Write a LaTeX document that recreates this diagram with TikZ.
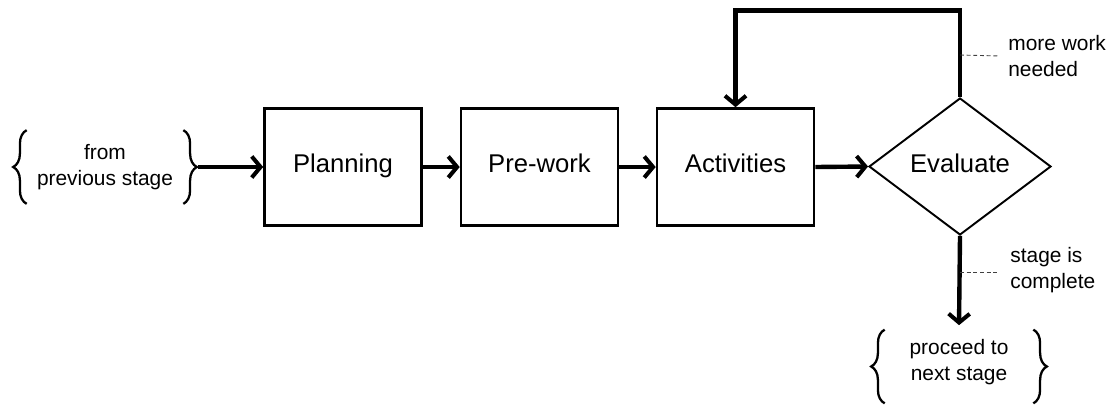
\documentclass[tikz,border=0pt]{standalone}
\usepackage{fontspec}
\setmainfont{Liberation Sans}
\usetikzlibrary{arrows.meta,shapes.geometric,decorations.pathreplacing}

\tikzset{
  stagebox/.style={draw, line width=1.5pt, minimum width=3.14cm, minimum height=2.34cm,
    inner sep=0pt, text height=0.72em, text depth=0.08em, font=\fontsize{14.6}{17}\selectfont},
  decision/.style={draw, diamond, line width=1.1pt, minimum width=3.64cm, minimum height=2.74cm,
    shape aspect=1.33, inner sep=0pt, text height=0.72em, text depth=0.08em,
    font=\fontsize{14.6}{17}\selectfont},
  flow/.style={line width=2.5pt, -{Straight Barb[length=5pt,width=12pt,line width=2.3pt]}},
  note/.style={align=left, inner sep=0pt, anchor=west, font=\fontsize{11.9}{14.8}\selectfont},
  bracetext/.style={align=center, inner sep=0pt, font=\fontsize{11.9}{15.2}\selectfont},
  curly/.style={decorate, decoration={brace, amplitude=0.27cm}, line width=1.3pt},
  leader/.style={dashed, dash pattern=on 2.2pt off 1.6pt, line width=0.5pt, black!75},
}

\begin{document}
\begin{tikzpicture}[x=0.02cm, y=-0.02cm]
  \useasboundingbox (0,0) rectangle (1111,406);

  % main row of stages
  \node[stagebox] (plan) at (343,167) {Planning};
  \node[stagebox] (pre)  at (539.5,167) {Pre-work};
  \node[stagebox] (act)  at (735.5,167) {Activities};
  \node[decision] (eval) at (960,166.5) {Evaluate};

  % entry and exit notes, each set between a pair of braces
  \node[bracetext, minimum width=3.72cm, minimum height=1.46cm] (src) at (105,167)
    {from\\previous stage};
  \draw[curly] ([xshift=0.3cm]src.south west) -- ([xshift=0.3cm]src.north west);
  \draw[curly] ([xshift=-0.3cm]src.north east) -- ([xshift=-0.3cm]src.south east);

  \node[bracetext, minimum width=3.76cm, minimum height=1.46cm] (dst) at (959,362)
    {proceed to\\next stage};
  \draw[curly] ([xshift=0.4cm,yshift=-0.09cm]dst.south west)
    -- ([xshift=0.4cm,yshift=-0.09cm]dst.north west);
  \draw[curly] ([xshift=-0.4cm,yshift=-0.09cm]dst.north east)
    -- ([xshift=-0.4cm,yshift=-0.09cm]dst.south east);

  % forward flow
  \draw[flow] (src.east) -- (plan.west);
  \draw[flow] (plan.east) -- (pre.west);
  \draw[flow] (pre.east) -- (act.west);
  \draw[flow] (act.east) -- (eval.west);
  \draw[flow] (eval.south) -- (dst.north);

  % loop back for rework
  \draw[flow, line join=miter] (eval.north) |- (735.5,10.5) -- (act.north);

  % outcome labels with dashed leaders
  \coordinate (more) at (960,55);
  \node[note] (morelbl) at (1008,56) {more work\\needed};
  \draw[leader] (more) -- ([xshift=-0.16cm]morelbl.west);

  \coordinate (done) at (960,272);
  \node[note] (donelbl) at (1010,270) {stage is\\complete};
  \draw[leader] (done) -- ([xshift=-0.2cm]donelbl.west |- done);
\end{tikzpicture}
\end{document}
